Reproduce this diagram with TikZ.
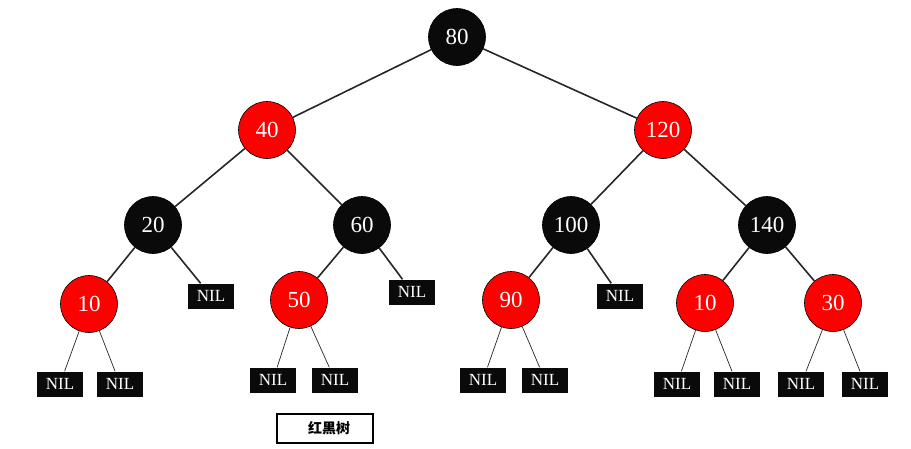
\documentclass[tikz,border=0pt]{standalone}
\usepackage{fontspec}
\setmainfont{Liberation Serif}
\newfontfamily\cjk{Noto Sans CJK SC}
\usetikzlibrary{calc}

\begin{document}
\begin{tikzpicture}[
    x=1pt, y=-1pt,
    rbnode/.style={circle, draw=black, line width=0.6pt, minimum size=57pt,
      inner sep=0pt, text=white, font=\fontsize{23}{23}\selectfont},
    rednode/.style={rbnode, fill=red},
    blacknode/.style={rbnode, fill=black!96},
    nilbox/.style={fill=black!96, text=white, minimum width=46pt,
      minimum height=25pt, inner sep=0pt, font=\fontsize{17}{17}\selectfont},
    branch/.style={line width=1.6pt, black!85},
    twig/.style={line width=0.7pt, black!85},
  ]
    \useasboundingbox (0,0) rectangle (911,448);
    % inner nodes
    \node[blacknode] (n80) at (457,37) {80};
    \node[rednode] (n40) at (267,130) {40};
    \node[rednode] (n120) at (663,130) {120};
    \node[blacknode] (n20) at (153,225) {20};
    \node[blacknode] (n60) at (362,225) {60};
    \node[blacknode] (n100) at (571,225) {100};
    \node[blacknode] (n140) at (767,225) {140};
    \node[rednode] (n10a) at (89,304) {10};
    \node[rednode] (n50) at (299,300) {50};
    \node[rednode] (n90) at (511,300) {90};
    \node[rednode] (n10b) at (705,303) {10};
    \node[rednode] (n30) at (833,303) {30};
    % NIL leaves
    \node[nilbox] (nil20) at (211,296) {NIL};
    \node[nilbox] (nil60) at (412,292) {NIL};
    \node[nilbox] (nil100) at (620,296) {NIL};
    \node[nilbox] (nil10aL) at (60,384) {NIL};
    \node[nilbox] (nil10aR) at (120,384) {NIL};
    \node[nilbox] (nil50L) at (273,380) {NIL};
    \node[nilbox] (nil50R) at (335,380) {NIL};
    \node[nilbox] (nil90L) at (483,380) {NIL};
    \node[nilbox] (nil90R) at (545,380) {NIL};
    \node[nilbox] (nil10bL) at (677,384) {NIL};
    \node[nilbox] (nil10bR) at (737,384) {NIL};
    \node[nilbox] (nil30L) at (801,384) {NIL};
    \node[nilbox] (nil30R) at (865,384) {NIL};
    % caption
    \node[draw=black, line width=1.2pt, minimum width=96pt, minimum height=29pt,
      inner sep=0pt, font=\cjk\bfseries\fontsize{14}{14}\selectfont]
      (caption) at (325,428.5) {\hspace*{8pt}红黑树};
    % edges
    \foreach \a/\b in {n80/n40, n80/n120, n40/n20, n40/n60, n120/n100, n120/n140,
        n20/n10a, n20/nil20, n60/n50, n60/nil60, n100/n90, n100/nil100,
        n140/n10b, n140/n30}
      \draw[branch] (\a) -- (\b);
    \foreach \a/\b in {n10a/nil10aL, n10a/nil10aR, n50/nil50L, n50/nil50R,
        n90/nil90L, n90/nil90R, n10b/nil10bL, n10b/nil10bR, n30/nil30L, n30/nil30R}
      \draw[twig] (\a) -- (\b);
  \end{tikzpicture}
\end{document}
